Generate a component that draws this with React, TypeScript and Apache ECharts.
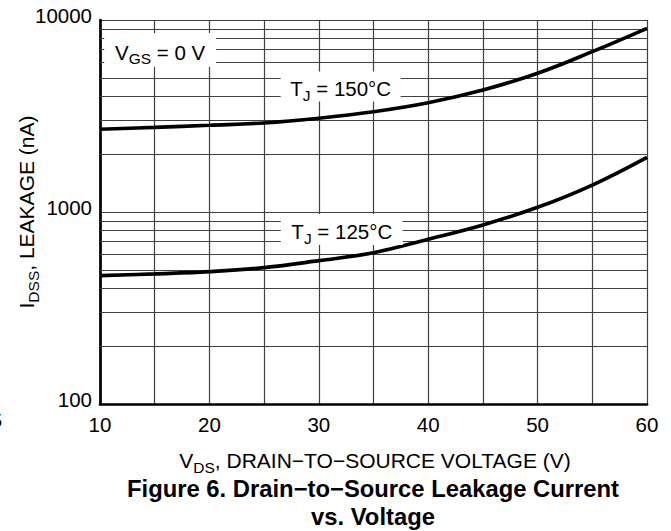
import React, { useEffect, useRef } from "react";
import * as echarts from "echarts";

// ---- data ----
const VDS = [10, 15, 20, 25, 30, 35, 40, 45, 50, 55, 60];
const IDSS_150C = [2700, 2760, 2830, 2910, 3080, 3330, 3710, 4320, 5280, 6840, 9050];
const IDSS_125C = [466, 476, 489, 513, 558, 614, 721, 856, 1058, 1382, 1927];
const Y_MINOR_GRID = [200, 300, 400, 500, 600, 700, 800, 900, 2000, 3000, 4000, 5000, 6000, 7000, 8000, 9000];
const LABEL_TEXTS = ["{m|V}{s|GS}{m| = 0 V}", "{m|T}{s|J}{m| = 150°C}", "{m|T}{s|J}{m| = 125°C}"];
const LABEL_ANCHORS: [number, number][] = [
  [15.5, 6980],
  [32, 4505],
  [32.1, 811],
];

const FONT = "'Liberation Sans', Arial, Helvetica, sans-serif";
const GRID_COLOR = "#404040";

const makeRich = (main: number, sub: number, drop: number) => ({
  m: { fontSize: main, fontFamily: FONT, color: "#000", lineHeight: main, verticalAlign: "top" as const },
  s: { fontSize: sub, fontFamily: FONT, color: "#000", lineHeight: sub, padding: [drop, 0, 0, 0], verticalAlign: "top" as const },
});
const richLabel = makeRich(20.5, 15.5, 9);
const richName = makeRich(21, 15.5, 9.5);

export default function App() {
  const ref = useRef<HTMLDivElement>(null);

  useEffect(() => {
    if (!ref.current) return;
    const chart = echarts.init(ref.current, undefined, { renderer: "svg" });
    const boxSizes: [number, number][] = [
      [112, 34],
      [120, 30],
      [122, 31],
    ];
    const option: any = {
      animation: false,
      backgroundColor: "#fff",
      grid: { left: 100, top: 20, right: 24, bottom: 127, containLabel: false },
      xAxis: {
        type: "value",
        min: 10,
        max: 60,
        interval: 10,
        axisLine: { show: true, onZero: false, lineStyle: { color: "#000", width: 2.7 } },
        axisTick: { show: false },
        minorTick: { show: false, splitNumber: 2 },
        axisLabel: { fontSize: 20.5, fontFamily: FONT, color: "#000", margin: 10 },
        splitLine: { show: true, lineStyle: { color: GRID_COLOR, width: 1.2 } },
        minorSplitLine: { show: true, lineStyle: { color: GRID_COLOR, width: 1.2 } },
      },
      yAxis: {
        type: "log",
        logBase: 10,
        min: 100,
        max: 10000,
        axisLine: { show: true, onZero: false, lineStyle: { color: "#000", width: 2.7 } },
        axisTick: { show: false },
        axisLabel: {
          fontSize: 20.5,
          fontFamily: FONT,
          color: "#000",
          margin: 8,
          verticalAlign: "bottom",
          lineHeight: 9,
          formatter: (v: number) => String(Math.round(v)),
        },
        splitLine: { show: true, lineStyle: { color: GRID_COLOR, width: 1.2 } },
      },
      series: [
        {
          name: "TJ = 150°C",
          type: "line",
          data: VDS.map((v, i) => [v, IDSS_150C[i]]),
          smooth: 0.4,
          showSymbol: false,
          symbol: "none",
          lineStyle: { color: "#000", width: 3.6 },
          z: 3,
          markPoint: {
            z: 6,
            silent: true,
            data: LABEL_ANCHORS.map((c, i) => ({
              coord: c,
              symbol: "rect",
              symbolSize: boxSizes[i],
              itemStyle: { color: "#fff" },
              label: {
                show: true,
                position: "inside",
                offset: [0, 2],
                formatter: LABEL_TEXTS[i],
                rich: richLabel,
              },
            })),
          },
        },
        {
          name: "TJ = 125°C",
          type: "line",
          data: VDS.map((v, i) => [v, IDSS_125C[i]]),
          smooth: 0.4,
          showSymbol: false,
          symbol: "none",
          lineStyle: { color: "#000", width: 3.6 },
          z: 3,
          markLine: {
            z: 1,
            silent: true,
            symbol: ["none", "none"],
            label: { show: false },
            lineStyle: { color: GRID_COLOR, width: 1.2, type: "solid" },
            data: Y_MINOR_GRID.map((v) => ({ yAxis: v })),
          },
        },
      ],
      graphic: [
        {
          type: "text",
          x: 375,
          y: 460,
          style: {
            text: "{m|V}{s|DS}{m|, DRAIN−TO−SOURCE VOLTAGE (V)}",
            rich: richName,
            align: "center",
            verticalAlign: "middle",
          },
        },
        {
          type: "text",
          x: 26,
          y: 212,
          rotation: Math.PI / 2,
          style: {
            text: "{m|I}{s|DSS}{m|, LEAKAGE (nA)}",
            rich: richName,
            align: "center",
            verticalAlign: "middle",
          },
        },
        {
          type: "text",
          x: 373,
          y: 488,
          style: {
            text: "Figure 6. Drain−to−Source Leakage Current",
            fontSize: 23.8,
            fontWeight: "bold",
            fontFamily: FONT,
            fill: "#000",
            align: "center",
            verticalAlign: "middle",
          },
        },
        {
          type: "text",
          x: 373,
          y: 516,
          style: {
            text: "vs. Voltage",
            fontSize: 23.8,
            fontWeight: "bold",
            fontFamily: FONT,
            fill: "#000",
            align: "center",
            verticalAlign: "middle",
          },
        },
        {
          type: "text",
          x: 2,
          y: 421,
          style: {
            text: "5",
            fontSize: 18,
            fontFamily: FONT,
            fill: "#000",
            align: "right",
            verticalAlign: "middle",
          },
        },
      ],
    };
    chart.setOption(option);
    return () => chart.dispose();
  }, []);

  return (
    <div
      ref={ref}
      style={{ position: "absolute", left: 0, top: 0, width: 671, height: 531, background: "#fff" }}
    />
  );
}
